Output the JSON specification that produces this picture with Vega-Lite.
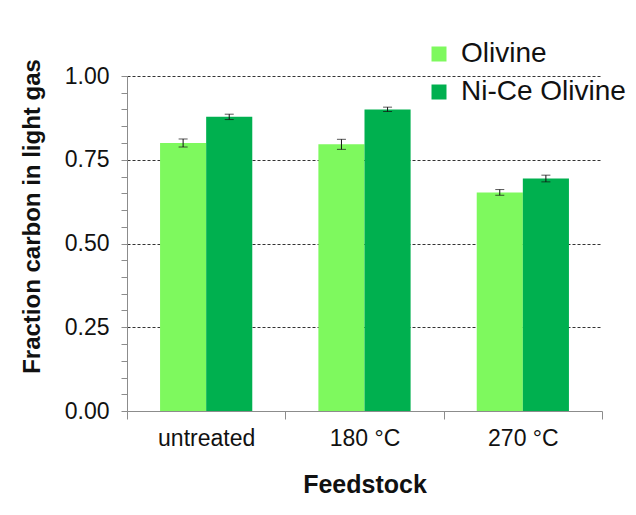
{
  "$schema": "https://vega.github.io/schema/vega-lite/v6.json",
  "width": 475,
  "height": 335,
  "autosize": {"type": "none"},
  "padding": {"left": 127, "top": 76, "right": 34, "bottom": 104},
  "background": "white",
  "config": {
    "font": "Liberation Sans",
    "view": {"stroke": null},
    "axis": {"labelFont": "Liberation Sans", "titleFont": "Liberation Sans", "labelColor": "#111", "titleColor": "#111"}
  },
  "data": {
    "values": [
      {"feedstock": "untreated", "catalyst": "Olivine", "fraction": 0.800, "lo": 0.788, "hi": 0.812},
      {"feedstock": "untreated", "catalyst": "Ni-Ce Olivine", "fraction": 0.878, "lo": 0.870, "hi": 0.886},
      {"feedstock": "180 °C", "catalyst": "Olivine", "fraction": 0.796, "lo": 0.781, "hi": 0.811},
      {"feedstock": "180 °C", "catalyst": "Ni-Ce Olivine", "fraction": 0.900, "lo": 0.894, "hi": 0.907},
      {"feedstock": "270 °C", "catalyst": "Olivine", "fraction": 0.652, "lo": 0.644, "hi": 0.661},
      {"feedstock": "270 °C", "catalyst": "Ni-Ce Olivine", "fraction": 0.694, "lo": 0.684, "hi": 0.704}
    ]
  },
  "encoding": {
    "x": {
      "field": "feedstock",
      "type": "nominal",
      "sort": ["untreated", "180 °C", "270 °C"],
      "scale": {"paddingInner": 0, "paddingOuter": 0},
      "axis": {
        "title": "Feedstock",
        "titleFontSize": 25,
        "titleFontWeight": "bold",
        "titlePadding": 22,
        "labelFontSize": 23,
        "labelAngle": 0,
        "labelPadding": 8,
        "tickBand": "extent",
        "tickSize": 8,
        "tickColor": "#8c8c8c",
        "domainColor": "#8c8c8c",
        "grid": false
      }
    },
    "xOffset": {
      "field": "catalyst",
      "type": "nominal",
      "sort": ["Olivine", "Ni-Ce Olivine"],
      "scale": {"paddingInner": 0, "paddingOuter": 0.717}
    }
  },
  "layer": [
    {
      "mark": {"type": "bar"},
      "encoding": {
        "y": {
          "field": "fraction",
          "type": "quantitative",
          "scale": {"domain": [0, 1], "nice": false},
          "axis": {
            "title": "Fraction carbon in light gas",
            "titleFontSize": 24,
            "titleFontWeight": "bold",
            "titlePadding": 20,
            "titleY": 140,
            "labelFontSize": 23,
            "labelPadding": 12,
            "labelOverlap": false,
            "values": [0, 0.05, 0.1, 0.15, 0.2, 0.25, 0.3, 0.35, 0.4, 0.45, 0.5, 0.55, 0.6, 0.65, 0.7, 0.75, 0.8, 0.85, 0.9, 0.95, 1],
            "labelExpr": "abs(datum.value * 4 - round(datum.value * 4)) < 0.001 ? format(datum.value, '.2f') : ''",
            "tickSize": 6,
            "tickColor": "#8c8c8c",
            "domainColor": "#8c8c8c",
            "grid": true,
            "gridColor": "#333333",
            "gridDash": [3, 2],
            "gridWidth": 1,
            "gridOpacity": {
              "condition": {"test": "abs(datum.value * 4 - round(datum.value * 4)) < 0.001 && datum.value > 0", "value": 1},
              "value": 0
            }
          }
        },
        "color": {
          "field": "catalyst",
          "type": "nominal",
          "sort": ["Olivine", "Ni-Ce Olivine"],
          "scale": {"domain": ["Olivine", "Ni-Ce Olivine"], "range": ["#7ef95e", "#00b04f"]},
          "legend": {
            "title": null,
            "orient": "none",
            "legendX": 298,
            "legendY": -36,
            "symbolType": "square",
            "symbolSize": 225,
            "symbolStrokeWidth": 0,
            "labelFontSize": 28,
            "labelLimit": 400,
            "labelFont": "Liberation Sans",
            "labelColor": "#111",
            "labelOffset": 8,
            "rowPadding": 10
          }
        }
      }
    },
    {
      "mark": {"type": "rule", "color": "#111", "strokeWidth": 1},
      "encoding": {
        "y": {
          "field": "lo",
          "type": "quantitative",
          "axis": {
            "title": "Fraction carbon in light gas",
            "titleFontSize": 24,
            "titleFontWeight": "bold",
            "titlePadding": 20,
            "titleY": 140,
            "labelFontSize": 23,
            "labelPadding": 12,
            "labelOverlap": false,
            "values": [0, 0.05, 0.1, 0.15, 0.2, 0.25, 0.3, 0.35, 0.4, 0.45, 0.5, 0.55, 0.6, 0.65, 0.7, 0.75, 0.8, 0.85, 0.9, 0.95, 1],
            "labelExpr": "abs(datum.value * 4 - round(datum.value * 4)) < 0.001 ? format(datum.value, '.2f') : ''",
            "tickSize": 6,
            "tickColor": "#8c8c8c",
            "domainColor": "#8c8c8c",
            "grid": true,
            "gridColor": "#333333",
            "gridDash": [3, 2],
            "gridWidth": 1,
            "gridOpacity": {
              "condition": {"test": "abs(datum.value * 4 - round(datum.value * 4)) < 0.001 && datum.value > 0", "value": 1},
              "value": 0
            }
          }
        },
        "y2": {"field": "hi"}
      }
    },
    {
      "mark": {"type": "tick", "color": "#111", "size": 9, "thickness": 1},
      "encoding": {
        "y": {
          "field": "lo",
          "type": "quantitative",
          "axis": {
            "title": "Fraction carbon in light gas",
            "titleFontSize": 24,
            "titleFontWeight": "bold",
            "titlePadding": 20,
            "titleY": 140,
            "labelFontSize": 23,
            "labelPadding": 12,
            "labelOverlap": false,
            "values": [0, 0.05, 0.1, 0.15, 0.2, 0.25, 0.3, 0.35, 0.4, 0.45, 0.5, 0.55, 0.6, 0.65, 0.7, 0.75, 0.8, 0.85, 0.9, 0.95, 1],
            "labelExpr": "abs(datum.value * 4 - round(datum.value * 4)) < 0.001 ? format(datum.value, '.2f') : ''",
            "tickSize": 6,
            "tickColor": "#8c8c8c",
            "domainColor": "#8c8c8c",
            "grid": true,
            "gridColor": "#333333",
            "gridDash": [3, 2],
            "gridWidth": 1,
            "gridOpacity": {
              "condition": {"test": "abs(datum.value * 4 - round(datum.value * 4)) < 0.001 && datum.value > 0", "value": 1},
              "value": 0
            }
          }
        }
      }
    },
    {
      "mark": {"type": "tick", "color": "#111", "size": 9, "thickness": 1},
      "encoding": {
        "y": {
          "field": "hi",
          "type": "quantitative",
          "axis": {
            "title": "Fraction carbon in light gas",
            "titleFontSize": 24,
            "titleFontWeight": "bold",
            "titlePadding": 20,
            "titleY": 140,
            "labelFontSize": 23,
            "labelPadding": 12,
            "labelOverlap": false,
            "values": [0, 0.05, 0.1, 0.15, 0.2, 0.25, 0.3, 0.35, 0.4, 0.45, 0.5, 0.55, 0.6, 0.65, 0.7, 0.75, 0.8, 0.85, 0.9, 0.95, 1],
            "labelExpr": "abs(datum.value * 4 - round(datum.value * 4)) < 0.001 ? format(datum.value, '.2f') : ''",
            "tickSize": 6,
            "tickColor": "#8c8c8c",
            "domainColor": "#8c8c8c",
            "grid": true,
            "gridColor": "#333333",
            "gridDash": [3, 2],
            "gridWidth": 1,
            "gridOpacity": {
              "condition": {"test": "abs(datum.value * 4 - round(datum.value * 4)) < 0.001 && datum.value > 0", "value": 1},
              "value": 0
            }
          }
        }
      }
    }
  ]
}
